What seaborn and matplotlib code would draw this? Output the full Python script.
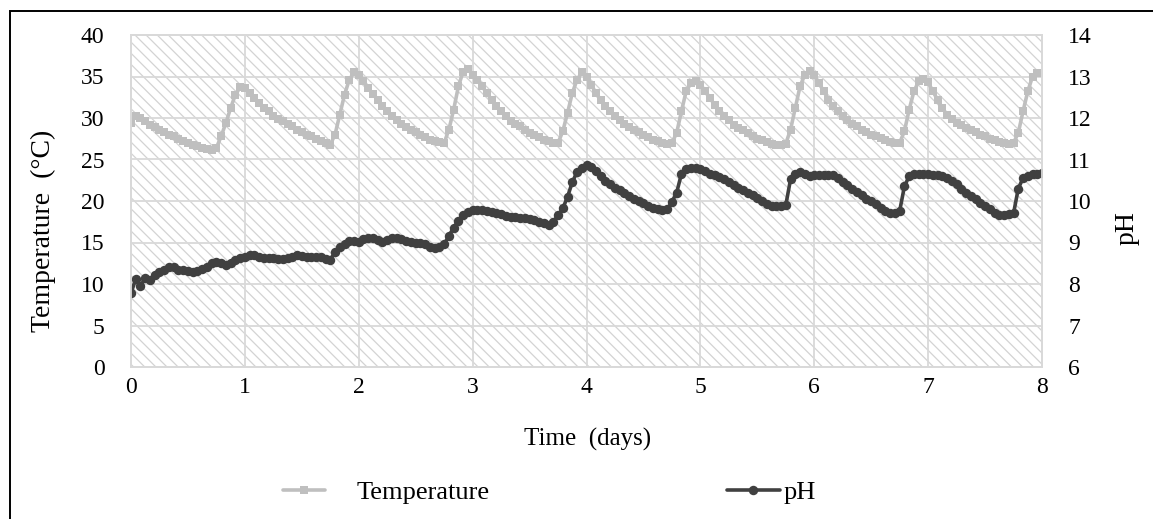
import numpy as np
import pandas as pd
import matplotlib
matplotlib.use("Agg")
import matplotlib.pyplot as plt
import matplotlib.patches as mpatches
import seaborn as sns

# ---------------- data (hourly readings over 8 days) ----------------
hours = list(range(0, 193))

temperature = [
    29.4, 30.3, 30.0, 29.6, 29.2, 28.9, 28.6, 28.3, 28.0, 27.8, 27.5, 27.2,
    27.0, 26.8, 26.6, 26.4, 26.3, 26.2, 26.4, 27.8, 29.4, 31.2, 32.8, 33.7,
    33.6, 33.0, 32.4, 31.8, 31.2, 30.8, 30.3, 29.9, 29.6, 29.3, 29.0, 28.6,
    28.3, 28.0, 27.8, 27.5, 27.2, 27.0, 26.8, 28.0, 30.4, 32.8, 34.6, 35.5,
    35.2, 34.5, 33.6, 32.9, 32.2, 31.4, 30.8, 30.2, 29.7, 29.3, 28.9, 28.6,
    28.3, 28.0, 27.7, 27.4, 27.2, 27.1, 27.0, 28.6, 31.0, 33.8, 35.6, 35.9,
    35.2, 34.6, 33.8, 33.0, 32.2, 31.4, 30.8, 30.2, 29.6, 29.3, 29.0, 28.6,
    28.2, 27.9, 27.7, 27.4, 27.2, 27.0, 27.0, 28.4, 30.6, 33.0, 34.6, 35.5,
    35.0, 34.0, 33.0, 32.2, 31.4, 30.8, 30.3, 29.8, 29.3, 28.9, 28.6, 28.3,
    28.0, 27.7, 27.4, 27.2, 27.0, 26.9, 27.0, 28.2, 30.8, 33.2, 34.2, 34.5,
    34.0, 33.3, 32.4, 31.6, 30.8, 30.2, 29.7, 29.2, 28.8, 28.5, 28.2, 27.8,
    27.5, 27.3, 27.1, 26.9, 26.8, 26.8, 26.9, 28.6, 31.2, 33.8, 35.2, 35.7,
    35.2, 34.2, 33.2, 32.2, 31.4, 30.8, 30.2, 29.7, 29.3, 29.0, 28.6, 28.3,
    28.0, 27.8, 27.6, 27.3, 27.1, 27.0, 27.0, 28.4, 31.0, 33.2, 34.4, 34.7,
    34.3, 33.2, 32.2, 31.2, 30.4, 29.9, 29.4, 29.1, 28.8, 28.6, 28.3, 28.0,
    27.8, 27.5, 27.3, 27.1, 27.0, 26.9, 27.0, 28.2, 30.8, 33.2, 35.0, 35.4,
    35.4,
]

ph = [
    7.78, 8.12, 7.95, 8.15, 8.10, 8.22, 8.30, 8.34, 8.40, 8.40, 8.34, 8.34,
    8.32, 8.30, 8.32, 8.36, 8.42, 8.50, 8.52, 8.50, 8.46, 8.50, 8.58, 8.62,
    8.66, 8.70, 8.70, 8.66, 8.62, 8.62, 8.62, 8.60, 8.60, 8.62, 8.66, 8.70,
    8.68, 8.66, 8.66, 8.66, 8.64, 8.60, 8.58, 8.78, 8.88, 8.96, 9.04, 9.04,
    9.02, 9.08, 9.12, 9.12, 9.06, 9.02, 9.06, 9.10, 9.12, 9.08, 9.04, 9.02,
    9.00, 8.98, 8.96, 8.90, 8.86, 8.90, 8.96, 9.16, 9.36, 9.52, 9.66, 9.74,
    9.78, 9.78, 9.78, 9.76, 9.74, 9.72, 9.68, 9.64, 9.62, 9.62, 9.60, 9.58,
    9.56, 9.54, 9.50, 9.46, 9.42, 9.50, 9.66, 9.82, 10.10, 10.45, 10.70, 10.80,
    10.86, 10.83, 10.72, 10.60, 10.48, 10.40, 10.32, 10.26, 10.20, 10.12, 10.06, 10.00,
    9.94, 9.88, 9.84, 9.80, 9.78, 9.80, 9.98, 10.20, 10.65, 10.76, 10.80, 10.80,
    10.78, 10.72, 10.66, 10.62, 10.58, 10.52, 10.45, 10.38, 10.32, 10.26, 10.20, 10.14,
    10.08, 10.00, 9.92, 9.88, 9.88, 9.88, 9.90, 10.52, 10.64, 10.70, 10.66, 10.60,
    10.62, 10.63, 10.63, 10.63, 10.62, 10.55, 10.46, 10.38, 10.30, 10.22, 10.14, 10.06,
    10.00, 9.92, 9.84, 9.76, 9.70, 9.72, 9.76, 10.35, 10.60, 10.64, 10.66, 10.66,
    10.64, 10.63, 10.62, 10.60, 10.55, 10.48, 10.40, 10.30, 10.20, 10.12, 10.04, 9.96,
    9.88, 9.80, 9.70, 9.66, 9.66, 9.68, 9.70, 10.30, 10.55, 10.60, 10.64, 10.66,
    10.68,
]

x_ticks = [0, 1, 2, 3, 4, 5, 6, 7, 8]
temp_ticks = [0, 5, 10, 15, 20, 25, 30, 35, 40]
ph_ticks = [6, 7, 8, 9, 10, 11, 12, 13, 14]

df = pd.DataFrame({
    "Time (days)": np.array(hours) / 24.0,
    "Temperature": temperature,
    "pH": ph,
})

# ---------------- style ----------------
sns.set_theme(style="white")
plt.rcParams["font.family"] = ["Liberation Serif", "DejaVu Serif"]
plt.rcParams["text.color"] = "black"
plt.rcParams["axes.labelcolor"] = "black"
plt.rcParams["hatch.color"] = "#d3d3d3"
plt.rcParams["hatch.linewidth"] = 0.9

W, H = 1153, 519
fig = plt.figure(figsize=(W / 100, H / 100), dpi=100)
ax = fig.add_axes([131 / W, 1 - 367 / H, (1042 - 131) / W, (367 - 35) / H])

# hatched plot area
ax.patch.set_facecolor("white")
ax.patch.set_edgecolor("#d3d3d3")
ax.patch.set_hatch("\\\\\\")

grid_c = "#d9d9d9"
ax.set_axisbelow(True)
ax.grid(True, color=grid_c, linewidth=1.3)

temp_c = "#bfbfbf"
ph_c = "#404040"

sns.lineplot(data=df, x="Time (days)", y="Temperature", ax=ax, color=temp_c,
             marker="s", markersize=6.4, markeredgewidth=0, linewidth=2.6,
             label="Temperature", legend=False)

ax2 = ax.twinx()
sns.lineplot(data=df, x="Time (days)", y="pH", ax=ax2, color=ph_c,
             marker="o", markersize=6.8, markeredgewidth=0, linewidth=2.6,
             label="pH", legend=False)

ax.set_xlim(0, 8)
ax.set_ylim(0, 40)
ax2.set_ylim(6, 14)
ax.set_xticks(x_ticks)
ax.set_xticklabels([str(v) for v in x_ticks])
ax.set_yticks(temp_ticks)
ax.set_yticklabels([str(v) for v in temp_ticks])
ax2.set_yticks(ph_ticks)
ax2.set_yticklabels([str(v) for v in ph_ticks])
ax2.grid(False)

tick_fs = 17
xlabel_fs = 18
ylabel_fs = 20
leg_fs = 19
ax.tick_params(axis="both", length=0, labelsize=tick_fs, colors="#000000")
ax.tick_params(axis="y", pad=19)
ax.tick_params(axis="x", pad=7)
ax2.tick_params(axis="y", length=0, labelsize=tick_fs, pad=19, colors="#000000")

for a in (ax, ax2):
    for s in a.spines.values():
        s.set_color(grid_c)
        s.set_linewidth(1.3)

axw = 1042 - 131
axh = 367 - 35
ax.set_xlabel("Time  (days)", fontsize=xlabel_fs, color="black")
ax.xaxis.set_label_coords((588 - 131) / axw, -(428 - 367) / axh)
ax.set_ylabel("Temperature  (\u00b0C)", fontsize=ylabel_fs, color="black")
ax.yaxis.set_label_coords((56 - 131) / axw, 1 - (231 - 35) / axh)
ax2.set_ylabel("pH", fontsize=ylabel_fs, rotation=90, color="black")
ax2.yaxis.set_label_coords((1115 - 131) / axw, 1 - (228 - 35) / axh)

# legend (two entries placed like the original)
h1, l1 = ax.get_legend_handles_labels()
h2, l2 = ax2.get_legend_handles_labels()
ly = 1 - 492 / H
leg1 = fig.legend(h1, l1, loc="center left", bbox_to_anchor=(283 / W, ly),
                  frameon=False, fontsize=leg_fs, handlelength=1.6,
                  handletextpad=1.2, borderpad=0, borderaxespad=0,
                  labelcolor="black")
leg2 = fig.legend(h2, l2, loc="center left", bbox_to_anchor=(727 / W, ly),
                  frameon=False, fontsize=leg_fs, handlelength=2.0,
                  handletextpad=0.15, borderpad=0, borderaxespad=0,
                  labelcolor="black")

# outer border (top and left visible in the crop)
fig.patches.append(mpatches.Rectangle((10 / W, -0.2), 1.2, 1.2 - 11 / H,
                                      transform=fig.transFigure, fill=False,
                                      edgecolor="black", linewidth=1.4,
                                      clip_on=False))

fig.savefig("out.png", dpi=100)
